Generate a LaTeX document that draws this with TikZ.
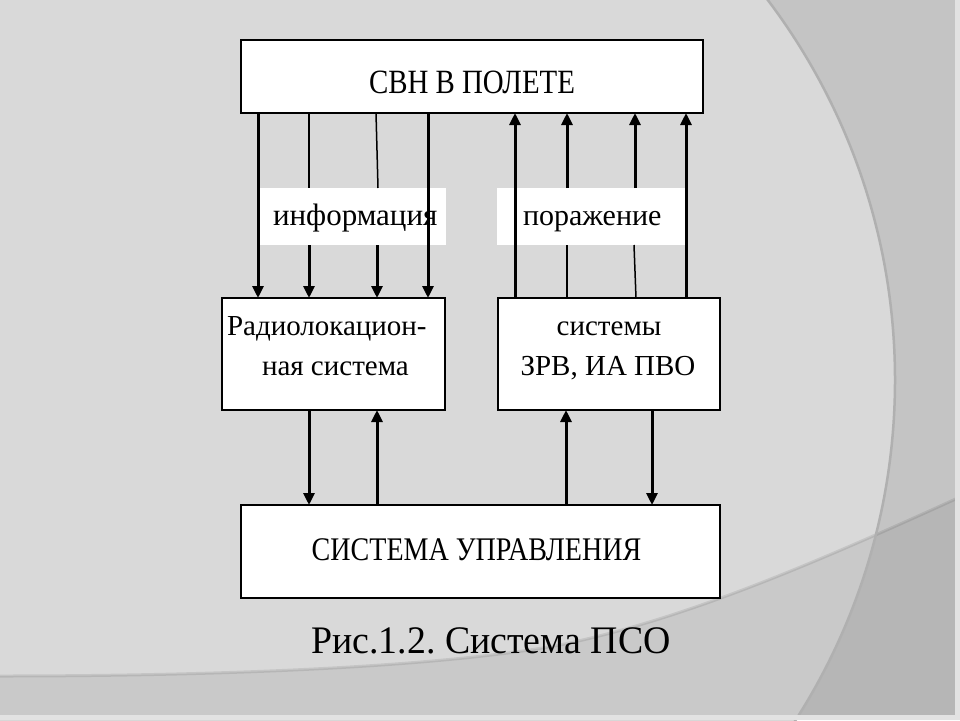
\documentclass[tikz,border=0pt]{standalone}
\usepackage{fontspec}
\setmainfont{Liberation Serif}
\newfontfamily\fA[FakeStretch=0.85]{Liberation Serif}
\newfontfamily\fB[FakeStretch=0.85]{Liberation Serif}
\newfontfamily\fC[FakeStretch=0.97]{Liberation Serif}
\usetikzlibrary{arrows.meta,calc}
\definecolor{bglight}{HTML}{D9D9D9}
\definecolor{bgdark}{HTML}{C4C4C4}
\definecolor{arcline}{HTML}{B0B0B0}
\definecolor{edgecol}{HTML}{E2E2E2}
\begin{document}
\frenchspacing
\begin{tikzpicture}[x=1pt,y=-1pt,
  box/.style={draw=black, line width=2pt, fill=white, inner sep=0pt, outer sep=0pt},
  lbl/.style={fill=white, inner sep=0pt, outer sep=0pt},
  txt/.style={inner sep=0pt, outer sep=0pt, anchor=base},
  thk/.style={line width=3pt},
  thn/.style={line width=1.5pt},
  arr/.style={thk, -{Triangle[width=11pt,length=12pt]}}]
\useasboundingbox (0,0) rectangle (960,720);
% background
\begin{scope}
\clip (0,0) rectangle (960,720);
\fill[bgdark] (0,0) rectangle (960,720);
\fill[bglight] (264,380) circle[radius=631];
\fill[black, opacity=0.07] (0,676) .. controls (250,676) and (450,665) .. (560,645)
  .. controls (680,620) and (800,570) .. (960,497) -- (960,720) -- (0,720) -- cycle;
\draw[black, opacity=0.09, line width=3pt] (0,676) .. controls (250,676) and (450,665) .. (560,645)
  .. controls (680,620) and (800,570) .. (960,497);
\draw[arcline, line width=2.5pt] (264,380) circle[radius=631];
\fill[edgecol] (955,0) rectangle (960,720);
\fill[edgecol] (0,715) rectangle (960,720);
\end{scope}
% boxes
\node[box, minimum width=462, minimum height=73] (T) at (472,76.5) {};
\node[box, minimum width=223, minimum height=112] (L) at (333.5,354) {};
\node[box, minimum width=222, minimum height=112] (R) at (609,354) {};
\node[box, minimum width=479, minimum height=93] (B) at (480.5,551.5) {};
\node[lbl, minimum width=186, minimum height=57] (I) at (353,216.5) {};
\node[lbl, minimum width=188, minimum height=57] (P) at (591,216.5) {};
% texts
\node[txt] (Ttx) at (472,93) {\fA\fontsize{34}{40}\selectfont СВН В ПОЛЕТЕ};
\node[txt, anchor=base west] (Lt1) at (227,335) {\fontsize{29}{33}\selectfont Радиолокацион-};
\node[txt, anchor=base west] (Lt2) at (262,375) {\fontsize{29}{33}\selectfont ная система};
\node[txt] (Rt1) at (609,335) {\fontsize{29}{33}\selectfont системы};
\node[txt] (Rt2) at (608,375) {\fontsize{29}{33}\selectfont ЗРВ, ИА ПВО};
\node[txt, anchor=base west] (It) at (273,225) {\fontsize{31}{35}\selectfont информация};
\node[txt, anchor=base west] (Pt) at (523,225) {\fontsize{30}{34}\selectfont поражение};
\node[txt] (Bt) at (476.5,560) {\fB\fontsize{33}{38}\selectfont СИСТЕМА УПРАВЛЕНИЯ};
\node[txt] (Cap) at (491,653) {\fC\fontsize{39}{44}\selectfont Рис.1.2. Система ПСО};
% columns
\coordinate (a1) at (258,0); \coordinate (a2) at (309,0);
\coordinate (a3) at (377,0); \coordinate (a4) at (428,0);
\coordinate (b1) at (515,0); \coordinate (b2) at (567,0);
\coordinate (b3) at (635,0); \coordinate (b4) at (686,0);
\coordinate (d1) at (309,0); \coordinate (d2) at (377,0);
\coordinate (d3) at (566,0); \coordinate (d4) at (652,0);
% information arrows
\draw[arr] (T.south -| a1) -- (L.north -| a1);
\draw[thn] (T.south -| a2) -- (I.north -| a2);
\draw[arr] (I.south -| a2) -- (L.north -| a2);
\draw[thn] ($(T.south -| a3)+(-1,0)$) -- ($(I.north -| a3)+(1,0)$);
\draw[arr] (I.south -| a3) -- (L.north -| a3);
\draw[arr] (T.south -| a4) -- (L.north -| a4);
% defeat arrows
\draw[arr] (R.north -| b1) -- (T.south -| b1);
\draw[thn] (R.north -| b2) -- (P.south -| b2);
\draw[arr] (P.north -| b2) -- (T.south -| b2);
\draw[thn] ($(R.north -| b3)+(1,0)$) -- ($(P.south -| b3)+(-1,0)$);
\draw[arr] (P.north -| b3) -- (T.south -| b3);
\draw[arr] (R.north -| b4) -- (T.south -| b4);
% control arrows
\draw[arr] (L.south -| d1) -- (B.north -| d1);
\draw[arr] (B.north -| d2) -- (L.south -| d2);
\draw[arr] (B.north -| d3) -- (R.south -| d3);
\draw[arr] (R.south -| d4) -- (B.north -| d4);
\end{tikzpicture}
\end{document}
